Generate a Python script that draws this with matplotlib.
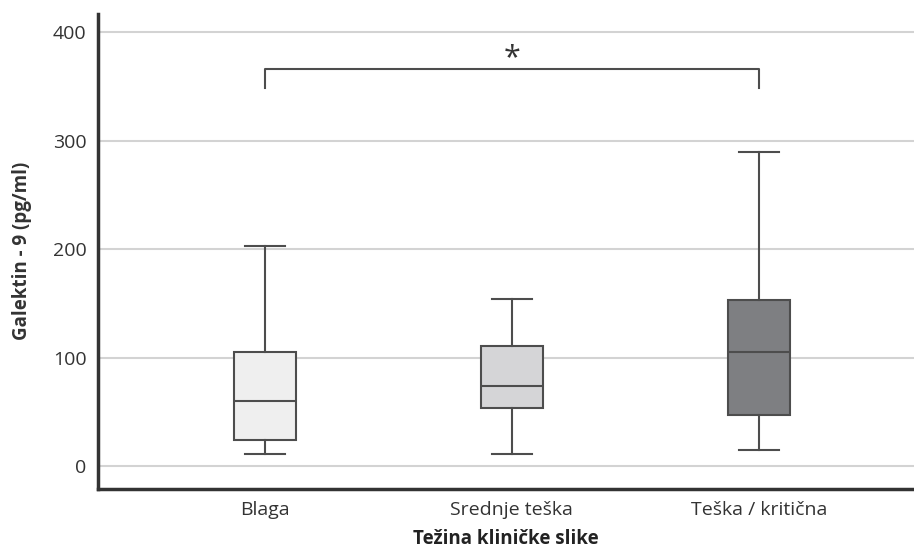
import matplotlib.pyplot as plt

# ── Data ──────────────────────────────────────────────────────────────────
groups   = ["Blaga", "Srednje teška", "Teška / kritična"]
whislo   = [11, 11, 15]
q1       = [24, 54, 47]
medians  = [60, 74, 105]
q3       = [105, 111, 153]
whishi   = [203, 154, 290]
colors   = ["#efefef", "#d5d5d7", "#7e7f82"]

plt.rcParams["font.family"] = ["Open Sans", "DejaVu Sans"]

fig = plt.figure(figsize=(9.14, 5.53), dpi=100)
ax = fig.add_axes([0.107, 0.116, 0.893, 0.859])

stats = []
for i, g in enumerate(groups):
    stats.append(dict(label=g, whislo=whislo[i], q1=q1[i], med=medians[i],
                      q3=q3[i], whishi=whishi[i], fliers=[]))

EDGE = "#4d4d4d"
bp = ax.bxp(stats, positions=[1, 2, 3], widths=0.25, patch_artist=True,
            showfliers=False,
            boxprops=dict(edgecolor=EDGE, linewidth=1.5),
            medianprops=dict(color=EDGE, linewidth=1.5),
            whiskerprops=dict(color=EDGE, linewidth=1.5),
            capprops=dict(color=EDGE, linewidth=1.5),
            capwidths=0.16)
for patch, c in zip(bp["boxes"], colors):
    patch.set_facecolor(c)

# significance bracket
ax.plot([1, 1, 3, 3], [349, 366, 366, 349], color=EDGE, lw=1.5)
ax.text(2, 362, "*", ha="center", va="bottom", fontsize=22, color="#333333")

ax.set_xlim(0.324, 3.628)
ax.set_ylim(-21, 417)
ax.set_yticks([0, 100, 200, 300, 400])
ax.yaxis.grid(True, color="#d3d3d3", lw=1.5)
ax.set_axisbelow(True)
ax.tick_params(length=0, labelsize=14, colors="#333333", pad=8)
ax.tick_params(axis="x", pad=9)

for s in ["top", "right"]:
    ax.spines[s].set_visible(False)
for s in ["left", "bottom"]:
    ax.spines[s].set_linewidth(2.5)
    ax.spines[s].set_color("#333333")

ax.set_ylabel("Galektin - 9 (pg/ml)", fontsize=13.5, fontweight="bold",
              color="#333333", labelpad=15)
ax.set_xlabel("Težina kliničke slike", fontsize=13.5, fontweight="bold",
              color="#222222", labelpad=7)

fig.savefig("out.png", dpi=100, facecolor="white")
